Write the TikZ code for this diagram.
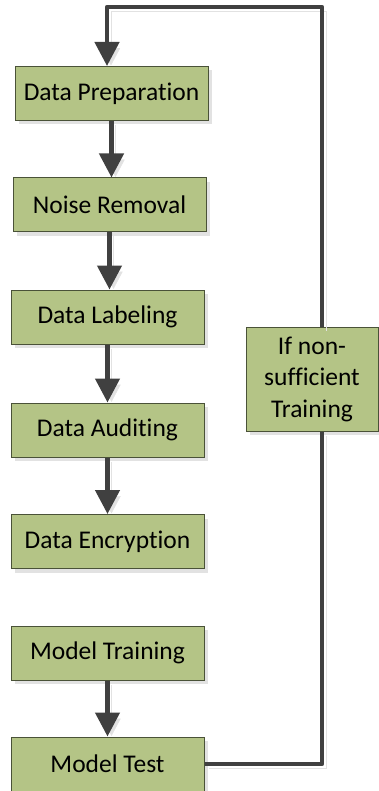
\documentclass[tikz,border=0pt]{standalone}
\usepackage{fontspec}
\setmainfont{Carlito}[Ligatures=NoCommon]
\usetikzlibrary{arrows.meta,shadows,calc}
\definecolor{boxfill}{HTML}{B4C486}
\definecolor{boxline}{HTML}{4A5238}
\definecolor{arrowcol}{HTML}{404040}
\definecolor{shadowcol}{HTML}{E2E2E2}
\tikzset{
  stepbox/.style={draw=boxline, line width=1pt, fill=boxfill, rectangle,
    minimum width=193pt, minimum height=54pt, inner sep=0pt,
    font=\fontsize{25.5pt}{31.5pt}\selectfont, align=center,
    drop shadow={shadow xshift=4pt, shadow yshift=-4pt, fill=shadowcol, opacity=1}},
  flow/.style={draw=arrowcol, line width=4.5pt,
    -{Triangle[width=24pt,length=24pt]},
    preaction={draw=shadowcol, transform canvas={shift={(4pt,-4pt)}}}},
  fline/.style={draw=arrowcol, line width=4.5pt, line join=round,
    preaction={draw=shadowcol, transform canvas={shift={(4pt,-4pt)}}}}
}
\begin{document}
\begin{tikzpicture}[x=1pt,y=-1pt]
\useasboundingbox (0,0) rectangle (379,791);
\node[stepbox] (dp) at (111.5,93.5) {Data Preparation};
\node[stepbox] (nr) at (109.5,205) {Noise Removal};
\node[stepbox] (dl) at (107.5,317) {Data Labeling};
\node[stepbox] (da) at (107.5,430) {Data Auditing};
\node[stepbox] (de) at (107.5,541.5) {Data Encryption};
\node[stepbox] (mt) at (107.5,653) {Model Training};
\node[stepbox] (mx) at (107.5,764) {Model Test};
\node[stepbox, minimum width=132pt, minimum height=104pt] (ifb) at (312,379) {If non-\\sufficient\\Training};
\coordinate (fbx) at (322,764);
\coordinate (fbtop) at (322,7);
\coordinate (fbl) at (107,7);
\draw[flow] (dp) -- (dp.south |- nr.north);
\draw[flow] (nr) -- (nr.south |- dl.north);
\draw[flow] (dl) -- (da);
\draw[flow] (da) -- (de);
\draw[flow] (mt) -- (mx);
\draw[fline] (mx.east) -- (fbx) -- (ifb.south -| fbx);
\draw[flow, line join=round] (ifb.north -| fbx) -- (fbtop) -- (fbl) -- (dp.north -| fbl);
\end{tikzpicture}
\end{document}
